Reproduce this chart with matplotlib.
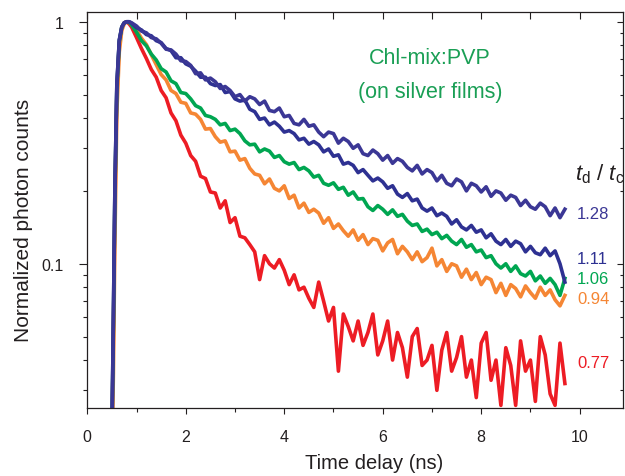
"""Fluorescence decay of Chl-mix:PVP on silver films (normalized photon counts)."""

import matplotlib

matplotlib.use("Agg")
import matplotlib.pyplot as plt
import numpy as np
from matplotlib.ticker import FixedLocator, LogLocator, NullFormatter

plt.rcParams["font.family"] = ["Liberation Sans", "DejaVu Sans"]
plt.rcParams["mathtext.fontset"] = "custom"
plt.rcParams["mathtext.it"] = "Liberation Sans:italic"
plt.rcParams["mathtext.rm"] = "Liberation Sans"

# rising edge, shared time base (ns)
RISE_T = [0.50, 0.53, 0.56, 0.60, 0.65, 0.70, 0.75, 0.80, 0.85]
# decay part sampled every 0.1 ns from 0.9 to 9.7 ns
DECAY_T = np.round(np.arange(0.9, 9.75, 0.1), 1)

RISE_128 = [0.02, 0.06, 0.20, 0.55, 0.84, 0.95, 0.99, 1.0, 1.0]
DECAY_128 = [
    0.99, 0.96, 0.915, 0.90, 0.86, 0.85, 0.815, 0.77, 0.765, 0.735,
    0.69, 0.685, 0.66, 0.61, 0.615, 0.575, 0.585, 0.565, 0.53, 0.54,
    0.52, 0.49, 0.50, 0.47, 0.49, 0.48, 0.455, 0.47, 0.43, 0.425,
    0.44, 0.405, 0.41, 0.38, 0.375, 0.395, 0.37, 0.375, 0.35, 0.335,
    0.35, 0.345, 0.315, 0.33, 0.32, 0.30, 0.31, 0.285, 0.28, 0.295,
    0.285, 0.268, 0.28, 0.26, 0.272, 0.265, 0.25, 0.242, 0.255, 0.235,
    0.245, 0.238, 0.22, 0.232, 0.215, 0.21, 0.224, 0.218, 0.20, 0.215,
    0.21, 0.198, 0.208, 0.19, 0.20, 0.196, 0.183, 0.192, 0.188, 0.174,
    0.183, 0.172, 0.168, 0.178, 0.172, 0.158, 0.17, 0.155, 0.168,
]

RISE_111 = [0.02, 0.06, 0.20, 0.55, 0.84, 0.95, 0.99, 1.0, 1.0]
DECAY_111 = [
    0.985, 0.945, 0.925, 0.885, 0.875, 0.835, 0.82, 0.775, 0.76, 0.71,
    0.71, 0.67, 0.655, 0.625, 0.59, 0.59, 0.555, 0.545, 0.55, 0.51,
    0.515, 0.48, 0.47, 0.475, 0.435, 0.425, 0.395, 0.40, 0.375, 0.385,
    0.37, 0.35, 0.355, 0.345, 0.325, 0.33, 0.312, 0.32, 0.31, 0.29,
    0.298, 0.278, 0.282, 0.258, 0.262, 0.255, 0.238, 0.245, 0.232, 0.22,
    0.226, 0.218, 0.205, 0.21, 0.194, 0.188, 0.195, 0.182, 0.185, 0.17,
    0.165, 0.17, 0.158, 0.162, 0.157, 0.146, 0.152, 0.142, 0.138, 0.144,
    0.135, 0.138, 0.128, 0.133, 0.124, 0.12, 0.126, 0.118, 0.124, 0.121,
    0.112, 0.118, 0.111, 0.109, 0.116, 0.108, 0.113, 0.10, 0.084,
]

RISE_106 = [0.02, 0.055, 0.19, 0.53, 0.83, 0.95, 0.99, 1.0, 0.995]
DECAY_106 = [
    0.97, 0.905, 0.835, 0.795, 0.735, 0.695, 0.64, 0.62, 0.57, 0.555,
    0.51, 0.505, 0.48, 0.45, 0.44, 0.41, 0.405, 0.395, 0.375, 0.38,
    0.355, 0.36, 0.345, 0.322, 0.31, 0.312, 0.29, 0.298, 0.292, 0.275,
    0.28, 0.264, 0.258, 0.262, 0.245, 0.25, 0.242, 0.228, 0.232, 0.215,
    0.211, 0.216, 0.203, 0.207, 0.192, 0.198, 0.185, 0.186, 0.172, 0.166,
    0.174, 0.168, 0.16, 0.167, 0.157, 0.16, 0.15, 0.144, 0.146, 0.136,
    0.139, 0.132, 0.135, 0.127, 0.131, 0.124, 0.12, 0.126, 0.117, 0.12,
    0.112, 0.114, 0.106, 0.108, 0.10, 0.096, 0.10, 0.093, 0.098, 0.091,
    0.089, 0.093, 0.085, 0.089, 0.083, 0.087, 0.082, 0.074, 0.087,
]

RISE_094 = [0.015, 0.035, 0.12, 0.42, 0.75, 0.92, 0.98, 1.0, 0.995]
DECAY_094 = [
    0.975, 0.925, 0.855, 0.805, 0.73, 0.665, 0.605, 0.575, 0.52, 0.505,
    0.465, 0.46, 0.42, 0.415, 0.395, 0.36, 0.362, 0.335, 0.318, 0.322,
    0.29, 0.292, 0.268, 0.272, 0.248, 0.235, 0.232, 0.214, 0.224, 0.205,
    0.20, 0.21, 0.186, 0.192, 0.17, 0.178, 0.163, 0.168, 0.162, 0.147,
    0.155, 0.14, 0.146, 0.137, 0.13, 0.138, 0.125, 0.132, 0.12, 0.127,
    0.125, 0.113, 0.122, 0.126, 0.11, 0.118, 0.112, 0.104, 0.112, 0.102,
    0.106, 0.116, 0.098, 0.104, 0.093, 0.10, 0.098, 0.088, 0.095, 0.086,
    0.092, 0.082, 0.088, 0.086, 0.076, 0.083, 0.074, 0.082, 0.079, 0.073,
    0.081, 0.076, 0.072, 0.08, 0.074, 0.078, 0.071, 0.067, 0.074,
]

RISE_077 = [0.018, 0.05, 0.17, 0.50, 0.81, 0.94, 0.99, 1.0, 0.98]
DECAY_077 = [
    0.95, 0.86, 0.775, 0.705, 0.635, 0.59, 0.52, 0.485, 0.42, 0.39,
    0.34, 0.315, 0.28, 0.265, 0.23, 0.225, 0.198, 0.196, 0.17, 0.182,
    0.148, 0.155, 0.13, 0.128, 0.12, 0.112, 0.086, 0.108, 0.10, 0.096,
    0.104, 0.094, 0.082, 0.09, 0.078, 0.08, 0.072, 0.066, 0.084, 0.07,
    0.058, 0.066, 0.036, 0.062, 0.055, 0.048, 0.058, 0.046, 0.052, 0.062,
    0.042, 0.048, 0.058, 0.04, 0.052, 0.045, 0.034, 0.05, 0.054, 0.038,
    0.04, 0.046, 0.03, 0.044, 0.052, 0.036, 0.041, 0.05, 0.034, 0.04,
    0.028, 0.047, 0.052, 0.033, 0.04, 0.026, 0.045, 0.038, 0.026, 0.048,
    0.036, 0.04, 0.027, 0.05, 0.042, 0.029, 0.026, 0.047, 0.032,
]

RATIO_LABELS = ["0.77", "0.94", "1.06", "1.11", "1.28"]

X_MAJOR = [0, 2, 4, 6, 8, 10]
X_MINOR = [1, 3, 5, 7, 9]
Y_MAJOR = [0.1, 1]
Y_MAJOR_LABELS = ["0.1", "1"]

TEXT_DARK = "#231f20"
COLORS = {
    "0.77": "#ed1c24",
    "0.94": "#f58634",
    "1.06": "#00a651",
    "1.11": "#2e3192",
    "1.28": "#3b3795",
}
# label centres in figure pixels (y from top)
LABEL_Y = {"1.28": 215, "1.11": 259, "1.06": 279, "0.94": 300, "0.77": 364}


def main() -> None:
    W, H = 625, 477
    fig = plt.figure(figsize=(W / 100, H / 100), dpi=100)
    ax = fig.add_axes([87.3 / W, 1 - 408.8 / H, 535.7 / W, 395.5 / H])

    series = {
        "0.77": (RISE_077, DECAY_077),
        "0.94": (RISE_094, DECAY_094),
        "1.06": (RISE_106, DECAY_106),
        "1.11": (RISE_111, DECAY_111),
        "1.28": (RISE_128, DECAY_128),
    }
    for key in RATIO_LABELS:
        rise, decay = series[key]
        t = np.concatenate([RISE_T, DECAY_T])
        y = np.concatenate([rise, decay])
        ax.plot(t, y, color=COLORS[key], linewidth=2.6, solid_joinstyle="round")

    ax.set_yscale("log")
    ax.set_xlim(0, 10.88)
    ax.set_ylim(0.0254, 1.094)

    ax.xaxis.set_major_locator(FixedLocator(X_MAJOR))
    ax.xaxis.set_minor_locator(FixedLocator(X_MINOR))
    ax.set_xticklabels([str(v) for v in X_MAJOR])
    ax.yaxis.set_major_locator(FixedLocator(Y_MAJOR))
    ax.set_yticklabels(Y_MAJOR_LABELS)
    ax.yaxis.set_minor_locator(LogLocator(base=10, subs=np.arange(2, 10)))
    ax.yaxis.set_minor_formatter(NullFormatter())

    ax.tick_params(axis="x", which="major", direction="out", length=4.5, width=0.8,
                   pad=11, labelsize=11.5, colors=TEXT_DARK)
    ax.tick_params(axis="x", which="minor", direction="out", length=3, width=0.8, colors=TEXT_DARK)
    ax.tick_params(axis="y", which="major", direction="out", length=5.5, width=0.8,
                   pad=11.5, labelsize=11.5, colors=TEXT_DARK)
    ax.tick_params(axis="y", which="minor", direction="out", length=3, width=0.8, colors=TEXT_DARK)

    top = ax.secondary_xaxis("top")
    top.xaxis.set_major_locator(FixedLocator(X_MAJOR + X_MINOR))
    top.tick_params(direction="in", length=5, width=0.8, labeltop=False, colors=TEXT_DARK)
    right = ax.secondary_yaxis("right")
    right.yaxis.set_major_locator(FixedLocator(Y_MAJOR))
    right.yaxis.set_minor_locator(LogLocator(base=10, subs=np.arange(2, 10)))
    right.tick_params(which="major", direction="in", length=4, width=0.8, labelright=False, colors=TEXT_DARK)
    right.tick_params(which="minor", direction="in", length=2.5, width=0.8, labelright=False, colors=TEXT_DARK)
    right.yaxis.set_minor_formatter(NullFormatter())
    for sec in (top, right):
        for sp in sec.spines.values():
            sp.set_visible(False)

    for sp in ax.spines.values():
        sp.set_color(TEXT_DARK)
        sp.set_linewidth(0.9)

    ax.set_xlabel("Time delay (ns)", fontsize=14.5, color=TEXT_DARK, labelpad=6)
    ax.xaxis.label.set_x((374.5 - 87.3) / 535.7)
    ax.set_ylabel("Normalized photon counts", fontsize=15, color=TEXT_DARK, labelpad=6)
    ax.yaxis.label.set_y((408.8 - 220) / 395.5)

    green_text = "#1a9f55"
    fig.text(430 / W, 1 - 64 / H, "Chl-mix:PVP", fontsize=15.5, color=green_text,
             ha="center", va="baseline")
    fig.text(430 / W, 1 - 98 / H, "(on silver films)", fontsize=15.5, color=green_text,
             ha="center", va="baseline")

    fig.text(575 / W, 1 - 180 / H, r"$t_{\rm d}$ / $t_{\rm c}$", fontsize=16,
             color=TEXT_DARK, ha="left", va="baseline")
    for key in RATIO_LABELS:
        fig.text(577 / W, 1 - LABEL_Y[key] / H, key, fontsize=12, color=COLORS[key],
                 ha="left", va="center")

    fig.savefig("out.png", dpi=100)
    plt.close(fig)


if __name__ == "__main__":
    main()
